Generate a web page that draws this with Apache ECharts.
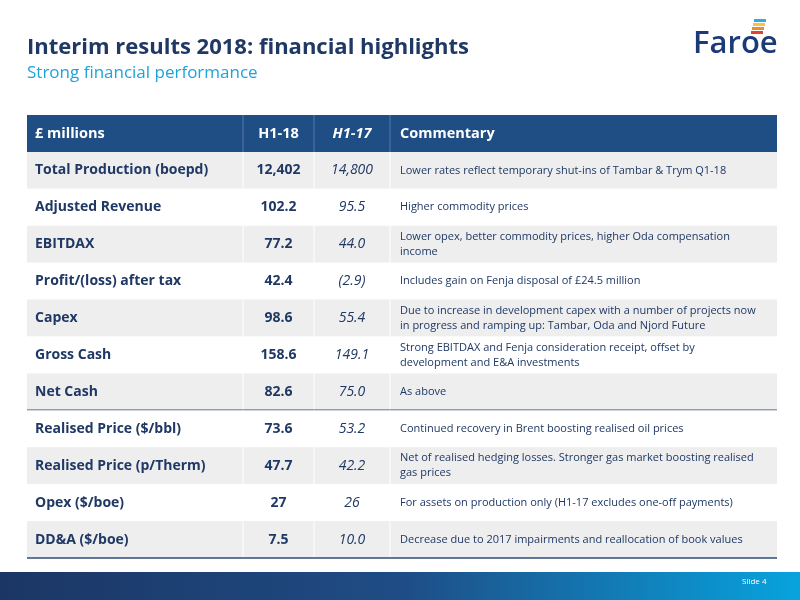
<!DOCTYPE html>
<html><head><meta charset="utf-8">
<script src="https://cdn.jsdelivr.net/npm/echarts@6/dist/echarts.min.js"></script>
<style>html,body{margin:0;padding:0;background:#fff}#c{width:800px;height:600px}</style>
</head><body><div id="c"></div>
<script>
const headers = ['£ millions', 'H1-18', 'H1-17', 'Commentary'];
const metrics = ['Total Production (boepd)', 'Adjusted Revenue', 'EBITDAX', 'Profit/(loss) after tax', 'Capex', 'Gross Cash', 'Net Cash', 'Realised Price ($/bbl)', 'Realised Price (p/Therm)', 'Opex ($/boe)', 'DD&A ($/boe)'];
const h118 = ['12,402', '102.2', '77.2', '42.4', '98.6', '158.6', '82.6', '73.6', '47.7', '27', '7.5'];
const h117 = ['14,800', '95.5', '44.0', '(2.9)', '55.4', '149.1', '75.0', '53.2', '42.2', '26', '10.0'];
const comments = [
  'Lower rates reflect temporary shut-ins of Tambar & Trym Q1-18',
  'Higher commodity prices',
  'Lower opex, better commodity prices, higher Oda compensation income',
  'Includes gain on Fenja disposal of £24.5 million',
  'Due to increase in development capex with a number of projects now in progress and ramping up: Tambar, Oda and Njord Future',
  'Strong EBITDAX and Fenja consideration receipt, offset by development and E&A investments',
  'As above',
  'Continued recovery in Brent boosting realised oil prices',
  'Net of realised hedging losses. Stronger gas market boosting realised gas prices',
  'For assets on production only (H1-17 excludes one-off payments)',
  'Decrease due to 2017 impairments and reallocation of book values'
];
const colEdges = [0, 216, 287, 363, 750];

const rows = ['header'].concat(metrics);
const data = rows.map((r, i) => [i]);
const navy = '#1f3864', head = '#1f4e85', font = 'Open Sans, sans-serif';

function renderItem(params, api) {
  const i = api.value(0);
  const h = api.size([0, 1])[1];
  const c = api.coord([0, i]);
  const y0 = c[1] - h / 2, yc = c[1];
  const x = colEdges.map(v => api.coord([v, i])[0]);
  const W = x[4] - x[0];
  const ch = [];
  if (i === 0) {
    ch.push({type: 'rect', shape: {x: x[0], y: y0, width: W, height: h}, style: {fill: head}});
    [1, 2, 3].forEach(k => ch.push({type: 'line', shape: {x1: x[k], y1: y0, x2: x[k], y2: y0 + h}, style: {stroke: '#5a79a6', lineWidth: 1}}));
    ch.push({type: 'text', style: {text: headers[0], x: x[0] + 8, y: yc, verticalAlign: 'middle', fill: '#fff', font: 'bold 14.5px ' + font}});
    ch.push({type: 'text', style: {text: headers[1], x: (x[1] + x[2]) / 2, y: yc, align: 'center', verticalAlign: 'middle', fill: '#fff', font: 'bold 14.5px ' + font}});
    ch.push({type: 'text', style: {text: headers[2], x: (x[2] + x[3]) / 2, y: yc, align: 'center', verticalAlign: 'middle', fill: '#fff', font: 'italic bold 14.5px ' + font}});
    ch.push({type: 'text', style: {text: headers[3], x: x[3] + 10, y: yc, verticalAlign: 'middle', fill: '#fff', font: 'bold 14.5px ' + font}});
  } else {
    const j = i - 1;
    ch.push({type: 'rect', shape: {x: x[0], y: y0, width: W, height: h}, style: {fill: j % 2 === 0 ? '#eeeeef' : '#ffffff'}});
    [1, 2, 3].forEach(k => ch.push({type: 'line', shape: {x1: x[k], y1: y0, x2: x[k], y2: y0 + h}, style: {stroke: '#ffffff', lineWidth: 1}}));
    ch.push({type: 'text', style: {text: metrics[j], x: x[0] + 8, y: yc, verticalAlign: 'middle', fill: navy, font: 'bold 14px ' + font}});
    ch.push({type: 'text', style: {text: h118[j], x: (x[1] + x[2]) / 2, y: yc, align: 'center', verticalAlign: 'middle', fill: navy, font: 'bold 14px ' + font}});
    ch.push({type: 'text', style: {text: h117[j], x: (x[2] + x[3]) / 2, y: yc, align: 'center', verticalAlign: 'middle', fill: navy, font: 'italic 14px ' + font}});
    ch.push({type: 'text', style: {text: comments[j], x: x[3] + 10, y: yc, verticalAlign: 'middle', fill: navy, font: '11px ' + font, width: x[4] - x[3] - 22, overflow: 'break', lineHeight: 15}});
    if (j === 6 || j === 10) {
      ch.push({type: 'line', shape: {x1: x[0], y1: y0 + h, x2: x[4], y2: y0 + h}, style: {stroke: '#2e4d7b', lineWidth: 1.5}});
    }
  }
  return {type: 'group', children: ch};
}

const chart = echarts.init(document.getElementById('c'), null, {renderer: 'canvas'});
chart.setOption({
  animation: false,
  grid: {left: 27, right: 23, top: 115, bottom: 42},
  xAxis: {type: 'value', min: 0, max: 750, show: false},
  yAxis: {type: 'category', data: rows, inverse: true, show: false},
  series: [{type: 'custom', renderItem: renderItem, data: data, encode: {y: 0}, clip: false}],
  graphic: [
    {type: 'text', left: 27, top: 37, style: {text: 'Interim results 2018: financial highlights', fill: navy, font: 'bold 22px ' + font}},
    {type: 'text', left: 27, top: 65, style: {text: 'Strong financial performance', fill: '#1ea3dc', font: '17px ' + font}},
    {type: 'text', left: 693, top: 29, style: {text: 'Faroe', fill: '#1d3a78', font: '600 31px ' + font}},
    {type: 'rect', shape: {x: 754, y: 19, width: 12, height: 3}, style: {fill: '#36a9e1'}},
    {type: 'rect', shape: {x: 753, y: 23, width: 12, height: 3}, style: {fill: '#f4c542'}},
    {type: 'rect', shape: {x: 752, y: 27, width: 12, height: 3}, style: {fill: '#f08a2c'}},
    {type: 'rect', shape: {x: 751, y: 31, width: 12, height: 3}, style: {fill: '#e5412e'}},
    {type: 'rect', shape: {x: 0, y: 572, width: 800, height: 28}, style: {fill: new echarts.graphic.LinearGradient(0, 0, 1, 0, [{offset: 0, color: '#1b3664'}, {offset: 0.5, color: '#1f4c85'}, {offset: 1, color: '#07a3de'}])}},
    {type: 'text', left: 742, top: 578, style: {text: 'Slide 4', fill: '#fff', font: '8px ' + font}}
  ]
});
</script></body></html>
